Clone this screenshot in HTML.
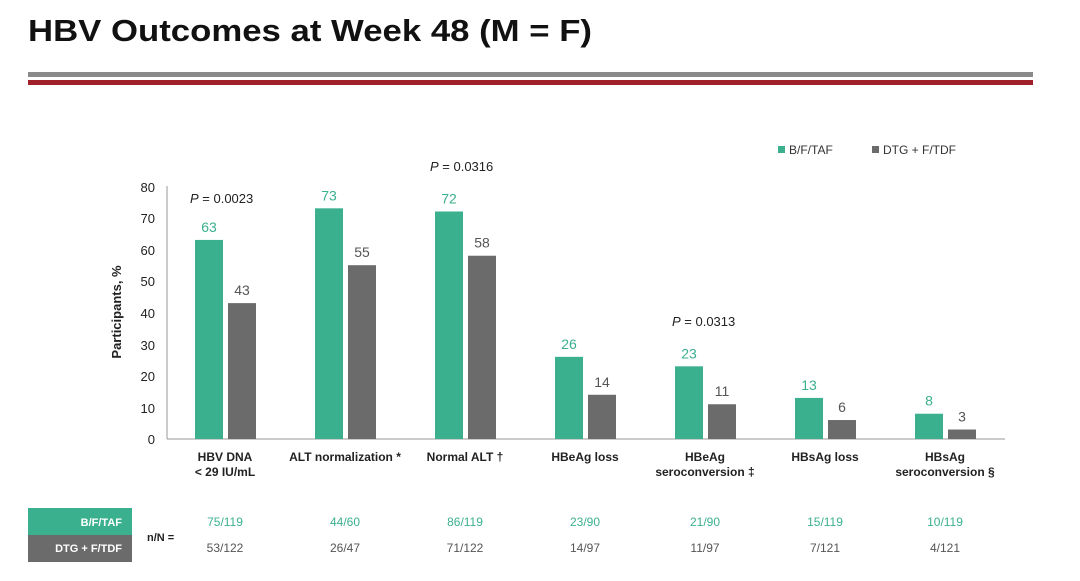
<!DOCTYPE html>
<html><head><meta charset="utf-8"><style>
body{margin:0;width:1080px;height:576px;background:#fff;overflow:hidden;font-family:"Liberation Sans",Arial,sans-serif}
</style></head><body>
<svg width="1080" height="576" xmlns="http://www.w3.org/2000/svg" font-family="Liberation Sans, Arial, sans-serif">
<text x="28" y="41" font-size="31" font-weight="bold" fill="#111" textLength="564" lengthAdjust="spacingAndGlyphs">HBV Outcomes at Week 48 (M = F)</text>
<rect x="28" y="72" width="1005" height="5" fill="#8a8a8a"/>
<rect x="28" y="80" width="1005" height="5" fill="#a0202a"/>
<!-- legend -->
<rect x="778" y="146" width="7" height="7" fill="#3bb08f"/>
<text x="789" y="154" font-size="12" fill="#333">B/F/TAF</text>
<rect x="872" y="146" width="7" height="7" fill="#6b6b6b"/>
<text x="883" y="154" font-size="12" fill="#333">DTG + F/TDF</text>
<!-- axes -->
<line x1="167" y1="186" x2="167" y2="439" stroke="#999"/>
<line x1="167" y1="439" x2="1005" y2="439" stroke="#999"/>
<g font-size="13" fill="#222" text-anchor="end">
<text x="155" y="444">0</text><text x="155" y="413">10</text><text x="155" y="381">20</text><text x="155" y="350">30</text><text x="155" y="318">40</text><text x="155" y="286">50</text><text x="155" y="255">60</text><text x="155" y="223">70</text><text x="155" y="192">80</text>
</g>
<text transform="translate(121,312) rotate(-90)" font-size="13" font-weight="bold" text-anchor="middle" fill="#222">Participants, %</text>
<g id="bars"></g>
<g font-size="13" fill="#222">
<text x="190" y="203"><tspan font-style="italic">P</tspan> = 0.0023</text>
<text x="430" y="171"><tspan font-style="italic">P</tspan> = 0.0316</text>
<text x="672" y="326"><tspan font-style="italic">P</tspan> = 0.0313</text>
</g>
<!-- n/N table -->
<rect x="28" y="508" width="104" height="27" fill="#3bb08f"/>
<rect x="28" y="535" width="104" height="27" fill="#6b6b6b"/>
<text x="122" y="526" font-size="11" font-weight="bold" fill="#fff" text-anchor="end">B/F/TAF</text>
<text x="122" y="552" font-size="11" font-weight="bold" fill="#fff" text-anchor="end">DTG + F/TDF</text>
<text x="147" y="541" font-size="11" font-weight="bold" fill="#222">n/N =</text>
</svg>
<script>
const g=document.getElementById('bars');const ns='http://www.w3.org/2000/svg';
const d=[[63,43,"75/119","53/122",["HBV DNA","< 29 IU/mL"]],[73,55,"44/60","26/47",["ALT normalization *"]],[72,58,"86/119","71/122",["Normal ALT †"]],[26,14,"23/90","14/97",["HBeAg loss"]],[23,11,"21/90","11/97",["HBeAg","seroconversion ‡"]],[13,6,"15/119","7/121",["HBsAg loss"]],[8,3,"10/119","4/121",["HBsAg","seroconversion §"]]];
function el(t,a,txt){const e=document.createElementNS(ns,t);for(const k in a)e.setAttribute(k,a[k]);if(txt!=null)e.textContent=txt;g.appendChild(e);}
d.forEach((r,i)=>{const c=225+120*i;const s=3.16;
el('rect',{x:c-30,y:439-r[0]*s,width:28,height:r[0]*s,fill:'#3bb08f'});
el('rect',{x:c+3,y:439-r[1]*s,width:28,height:r[1]*s,fill:'#6b6b6b'});
el('text',{x:c-16,y:439-r[0]*s-8,'font-size':14,fill:'#3bb08f','text-anchor':'middle'},r[0]);
el('text',{x:c+17,y:439-r[1]*s-8,'font-size':14,fill:'#555','text-anchor':'middle'},r[1]);
r[4].forEach((l,j)=>el('text',{x:c,y:461+j*15,'font-size':12,'font-weight':'bold',fill:'#222','text-anchor':'middle'},l));
el('text',{x:c,y:526,'font-size':12,fill:'#3bb08f','text-anchor':'middle'},r[2]);
el('text',{x:c,y:552,'font-size':12,fill:'#555','text-anchor':'middle'},r[3]);
});
</script>
</body></html>
